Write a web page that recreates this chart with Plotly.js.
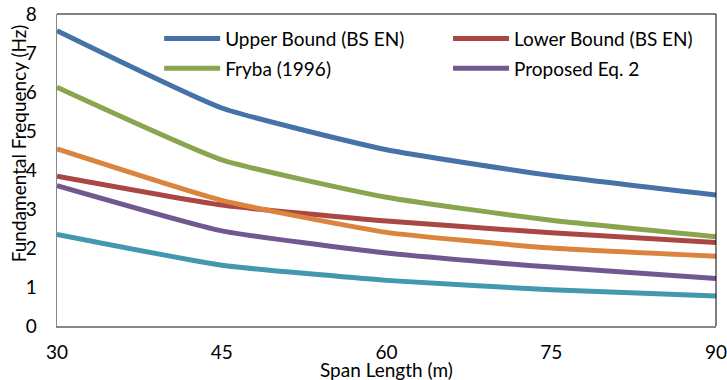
<!DOCTYPE html>
<html>
<head>
<meta charset="utf-8">
<script src="https://cdn.plot.ly/plotly-3.0.1.min.js"></script>
<style>
  html, body { margin: 0; padding: 0; background: #fff; }
  #chart { width: 727px; height: 380px; }
</style>
</head>
<body>
<div id="chart"></div>
<script>
// Span lengths (m)
const spans = [30, 45, 60, 75, 90];

// Fundamental frequency (Hz) for each span
const upperBound   = [7.57, 5.59, 4.52, 3.86, 3.36];
const lowerBound   = [3.84, 3.10, 2.69, 2.39, 2.14];
const fryba        = [6.12, 4.26, 3.30, 2.71, 2.29];
const proposed     = [3.60, 2.44, 1.87, 1.51, 1.22];
const seriesOrange = [4.54, 3.22, 2.40, 2.00, 1.79];
const seriesTeal   = [2.35, 1.56, 1.17, 0.93, 0.77];

const xTicks = [30, 45, 60, 75, 90];
const yTicks = [0, 1, 2, 3, 4, 5, 6, 7, 8];

const FONT = 'Lato, "Open Sans", sans-serif';
const AXIS_GREY = '#868686';

function series(y, name, color, legend, rank) {
  return {
    x: spans, y: y, name: name, type: 'scatter', mode: 'lines',
    line: { color: color, width: 5, shape: 'spline', smoothing: 0.45 },
    showlegend: !!legend, legend: legend || 'legend',
    legendgroup: name, legendrank: rank || 1000,
    hoverinfo: 'x+y+name'
  };
}

// Curves, back to front; the left legend column holds Upper Bound / Fryba,
// the right one Lower Bound / Proposed Eq. 2
const traces = [
  series(seriesTeal, 'Series 6', '#4198AF'),
  series(proposed, 'Proposed Eq. 2', '#71588F', 'legend2', 2),
  series(lowerBound, 'Lower Bound (BS EN)', '#AA4643', 'legend2', 1),
  series(seriesOrange, 'Series 5', '#DB843D'),
  series(fryba, 'Fryba (1996)', '#89A54E', 'legend', 2),
  series(upperBound, 'Upper Bound (BS EN)', '#4572A7', 'legend', 1)
];

const legendColumn = (x) => ({
  orientation: 'v', x: x, xanchor: 'left', y: 0.9818, yanchor: 'top',
  itemwidth: 56, tracegroupgap: 2, traceorder: 'grouped',
  bgcolor: 'rgba(0,0,0,0)',
  font: { family: FONT, size: 19, color: '#000000' }
});

const tickFont = { family: FONT, size: 19, color: '#000000' };

const layout = {
  width: 727, height: 380,
  margin: { l: 57, r: 11, t: 14, b: 54 },
  paper_bgcolor: '#ffffff', plot_bgcolor: '#ffffff',
  font: { family: FONT, size: 19, color: '#000000' },
  showlegend: true,
  legend: legendColumn(0.155),
  legend2: legendColumn(0.5934),
  // Main axes carry the labels (spaced out by longer, invisible ticks)
  xaxis: {
    range: [30, 90], tickvals: xTicks, ticktext: xTicks.map(String),
    showgrid: false, zeroline: false,
    showline: true, linecolor: AXIS_GREY, linewidth: 1.5,
    ticks: 'outside', ticklen: 9, tickcolor: 'rgba(0,0,0,0)',
    ticklabeloverflow: 'allow', tickfont: tickFont
  },
  yaxis: {
    range: [0, 8], tickvals: yTicks, ticktext: yTicks.map(String),
    showgrid: false, zeroline: false,
    showline: true, linecolor: AXIS_GREY, linewidth: 1.5,
    ticks: 'outside', ticklen: 15, tickcolor: 'rgba(0,0,0,0)',
    ticklabeloverflow: 'allow', tickfont: tickFont
  },
  // Overlay axes draw the short grey tick marks
  xaxis2: {
    overlaying: 'x', matches: 'x', range: [30, 90], tickvals: xTicks,
    showticklabels: false, showgrid: false, zeroline: false, showline: false,
    ticks: 'outside', ticklen: 7, tickcolor: AXIS_GREY, tickwidth: 1.5
  },
  yaxis2: {
    overlaying: 'y', matches: 'y', side: 'left', range: [0, 8], tickvals: yTicks,
    showticklabels: false, showgrid: false, zeroline: false, showline: false,
    ticks: 'outside', ticklen: 7, tickcolor: AXIS_GREY, tickwidth: 1.5
  },
  // Black frame on the top and right of the plot area
  shapes: [
    { type: 'line', xref: 'paper', yref: 'paper', x0: 0, x1: 1, y0: 1, y1: 1,
      line: { color: '#000000', width: 1 } },
    { type: 'line', xref: 'paper', yref: 'paper', x0: 1, x1: 1, y0: 0, y1: 1,
      line: { color: '#000000', width: 1 } }
  ],
  annotations: [
    { text: 'Span Length (m)', xref: 'paper', yref: 'paper', x: 0.5, y: -0.139,
      xanchor: 'center', yanchor: 'middle', showarrow: false,
      font: { family: FONT, size: 19, color: '#000000' } },
    { text: 'Fundamental Frequency (Hz)', xref: 'paper', yref: 'paper',
      x: -0.058, y: 0.585, textangle: -90,
      xanchor: 'center', yanchor: 'middle', showarrow: false,
      font: { family: FONT, size: 19, color: '#000000' } }
  ]
};

Plotly.newPlot('chart', traces, layout, { displayModeBar: false, staticPlot: true });
</script>
</body>
</html>
